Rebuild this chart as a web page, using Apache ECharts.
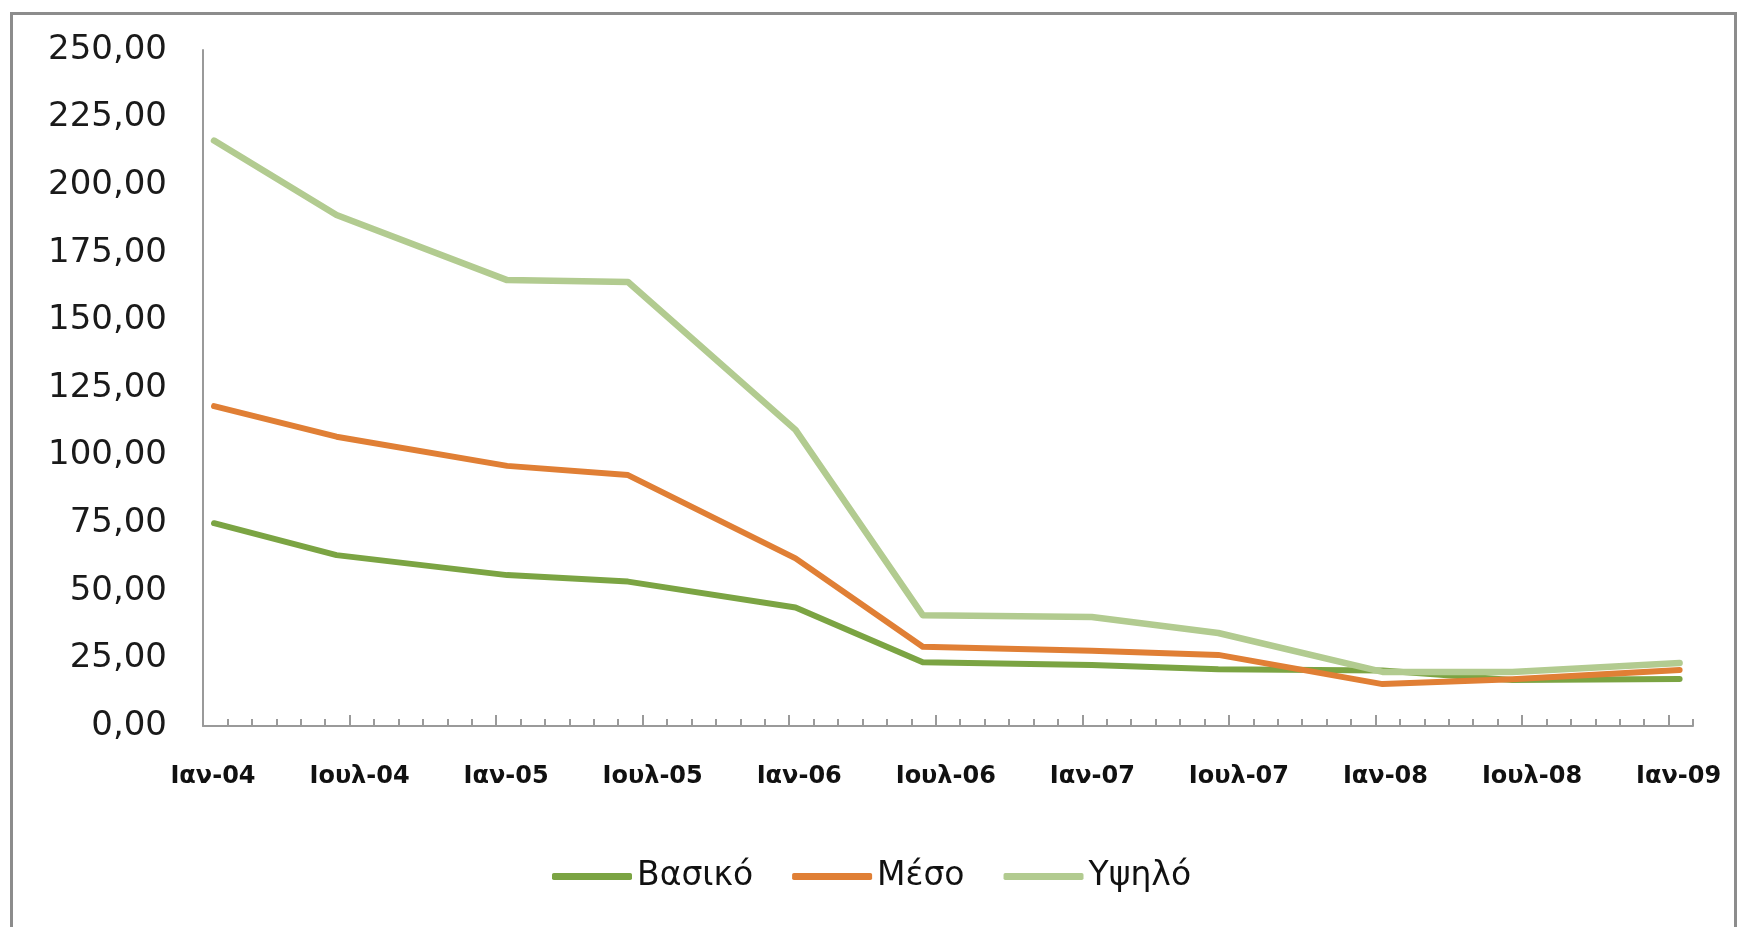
<!DOCTYPE html>
<html>
<head>
<meta charset="utf-8">
<script src="https://cdn.jsdelivr.net/npm/echarts@6/dist/echarts.min.js"></script>
<style>
html,body{margin:0;padding:0;background:#fff;}
#chart{width:1740px;height:927px;}
</style>
</head>
<body>
<div id="chart"></div>
<script>
// ---- data ----
const seriesNames = ['Βασικό', 'Μέσο', 'Υψηλό'];
const dates = ['2004-01-15','2004-06-15','2005-01-15','2005-06-13','2006-01-09','2006-06-15','2007-01-13','2007-06-18','2008-01-10','2008-06-19','2009-01-15'];
const basic  = [75.0, 63.2, 55.8, 53.4, 43.8, 23.6, 22.6, 21.0, 20.5, 17.0, 17.4];
const medium = [118.3, 107.0, 96.2, 92.8, 62.0, 29.3, 27.8, 26.3, 15.5, 17.3, 20.7];
const high   = [216.5, 189.0, 164.9, 164.2, 109.5, 41.0, 40.3, 34.4, 20.0, 20.0, 23.3];
const xTickLabels = ['Ιαν-04','Ιουλ-04','Ιαν-05','Ιουλ-05','Ιαν-06','Ιουλ-06','Ιαν-07','Ιουλ-07','Ιαν-08','Ιουλ-08','Ιαν-09'];
const yTickValues = [0, 25, 50, 75, 100, 125, 150, 175, 200, 225, 250];

// months since Jan 2004 (axis unit)
function monthIndex(s) {
  const [y, m, d] = s.split('-').map(Number);
  const dim = new Date(y, m, 0).getDate();
  return (y - 2004) * 12 + (m - 1) + (d - 1) / dim;
}
const xs = dates.map(monthIndex);
const majorMonths = xTickLabels.map((_, i) => i * 6);
const minorMonths = [];
for (let i = 1; i <= 61; i++) if (i % 6 !== 0) minorMonths.push(i);

const colors = ['#7BA443', '#E07F35', '#B2CB90'];
const vals = [basic, medium, high];
const legendTextWidths = [117, 98, 108];

const chart = echarts.init(document.getElementById('chart'));
chart.setOption({
  backgroundColor: '#fff',
  animation: false,
  graphic: [{
    type: 'rect', left: 9, top: 11, silent: true,
    shape: { width: 1724, height: 1000 },
    style: { fill: 'none', stroke: '#8c8c8c', lineWidth: 3 }
  }],
  grid: { left: 203, right: 47, top: 50, bottom: 201, containLabel: false },
  legend: {
    data: seriesNames.map((n, i) => ({ name: n, textStyle: { width: legendTextWidths[i] } })),
    left: 547, top: 855,
    icon: 'roundRect',
    itemWidth: 80, itemHeight: 7, itemGap: 39,
    textStyle: { fontFamily: 'DejaVu Sans', fontSize: 33, color: '#111' }
  },
  xAxis: [{
    type: 'value', min: 0, max: 61, position: 'bottom',
    axisLine: { show: true, lineStyle: { color: '#9a9a9a', width: 2 } },
    axisTick: { show: true, inside: true, length: 11, customValues: majorMonths, lineStyle: { color: '#9a9a9a', width: 2 } },
    axisLabel: {
      customValues: majorMonths,
      formatter: v => xTickLabels[Math.round(v / 6)] || '',
      margin: 39, padding: [0, 0, 0, 20],
      fontFamily: 'DejaVu Sans', fontWeight: 'bold', fontSize: 24, color: '#111'
    },
    splitLine: { show: false }
  }, {
    type: 'value', min: 0, max: 61, position: 'bottom',
    axisLine: { show: false },
    axisTick: { show: true, inside: true, length: 7, customValues: minorMonths, lineStyle: { color: '#9a9a9a', width: 2 } },
    axisLabel: { show: false },
    splitLine: { show: false }
  }],
  yAxis: {
    type: 'value', min: 0, max: 250, interval: 25,
    axisLine: { show: true, lineStyle: { color: '#9a9a9a', width: 2 } },
    axisTick: { show: false },
    splitLine: { show: false },
    axisLabel: {
      customValues: yTickValues,
      formatter: v => v.toFixed(2).replace('.', ','),
      margin: 36, fontFamily: 'DejaVu Sans', fontSize: 34, color: '#1a1a1a'
    }
  },
  series: seriesNames.map((name, k) => ({
    name: name,
    type: 'line',
    xAxisIndex: 0,
    data: xs.map((x, i) => [x, vals[k][i]]),
    showSymbol: false,
    symbol: 'none',
    color: colors[k],
    lineStyle: { width: k === 2 ? 6.5 : 6, color: colors[k], cap: 'round', join: 'round' }
  }))
});
</script>
</body>
</html>
